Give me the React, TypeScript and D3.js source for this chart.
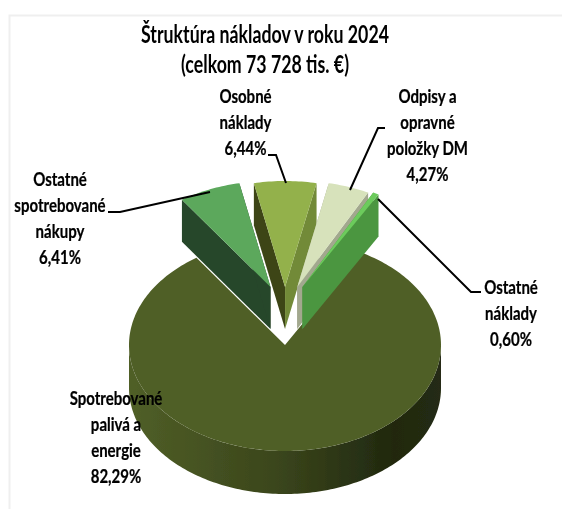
import React from "react";
import * as d3 from "d3";

// Data
const titleLines = ["Štruktúra nákladov v roku 2024", "(celkom 73 728 tis. €)"];
const categories = [
  ["Ostatné", "spotrebované", "nákupy"],
  ["Osobné", "náklady"],
  ["Odpisy a", "opravné", "položky DM"],
  ["Ostatné", "náklady"],
  ["Spotrebované", "palivá a", "energie"],
];
const shares = [6.41, 6.44, 4.27, 0.6, 82.29];
const shareLabels = ["6,41%", "6,44%", "4,27%", "0,60%", "82,29%"];

// Styles
const topColors = ["#5ba85c", "#93b14c", "#d7e2bb", "#6ccb5c", "#505f27"];
const leftFaceColors = ["#26462a", "#3d4519", "#a2a88e", "#4c9640", "#505f27"];
const rightFaceColors = ["#26462a", "#728a38", "#a2a88e", "#4c9640", "#505f27"];

// Layout
const W = 562, H = 509;
const cx = 285, cy = 345, rx = 156, ry = 106, depth = 43;
const sliceDepth = 42, liftY = 58, spreadX = 37;
const startDeg = -34.6;
const labelAnchors: [number, number][] = [
  [60, 186], [245.5, 103], [427.5, 103], [511, 294], [116, 405],
];
const leaders: [number, number][][] = [
  [[108, 212], [120, 212], [210, 192]],
  [[268, 155], [276, 155], [286, 183]],
  [[385, 128], [378, 128], [350, 190]],
  [[378, 199], [471, 292], [481, 292]],
];
const lineH = 26;
const fontFamily = "Lato, Carlito, sans-serif";

const line = d3.line<[number, number]>().curve(d3.curveLinearClosed);
const open = d3.line<[number, number]>();

function rim(a: number, ox: number, oy: number): [number, number] {
  return [cx + ox + rx * Math.sin(a), cy + oy - ry * Math.cos(a)];
}
function arcPts(a0: number, a1: number, ox: number, oy: number): [number, number][] {
  const n = Math.max(2, Math.ceil(Math.abs(a1 - a0) / 0.02));
  return d3.range(n + 1).map((i) => rim(a0 + ((a1 - a0) * i) / n, ox, oy));
}

export default function App() {
  const start = (startDeg * Math.PI) / 180;
  const arcs = d3
    .pie<number>()
    .sort(null)
    .startAngle(start)
    .endAngle(start + 2 * Math.PI)(shares);

  const main = arcs[4];
  const mainTop: [number, number][] = [[cx, cy], ...arcPts(main.startAngle, main.endAngle, 0, 0)];
  const side = [
    ...arcPts(Math.PI / 2, (3 * Math.PI) / 2, 0, 0),
    ...arcPts((3 * Math.PI) / 2, Math.PI / 2, 0, depth),
  ];

  return (
    <svg
      width={W}
      height={H}
      viewBox={`0 0 ${W} ${H}`}
      style={{ position: "absolute", left: 0, top: 0, background: "#fff" }}
    >
      <defs>
        <linearGradient id="mainSide" gradientUnits="userSpaceOnUse" x1={cx - rx} x2={cx + rx} y1={0} y2={0}>
          <stop offset="0" stopColor="#505f27" />
          <stop offset="0.5" stopColor="#39441b" />
          <stop offset="0.85" stopColor="#20280f" />
          <stop offset="1" stopColor="#252c13" />
        </linearGradient>
        <filter id="soft" x="-5%" y="-5%" width="110%" height="110%">
          <feGaussianBlur stdDeviation="0.4" />
        </filter>
      </defs>
      <path d="M9.5 509V15.5H562" fill="none" stroke="#efefef" strokeWidth={2} />
      <g filter="url(#soft)">
        <path d={line(side) ?? ""} fill="url(#mainSide)" />
        <path d={line(mainTop) ?? ""} fill={topColors[4]} />
        {arcs.slice(0, 4).map((s, i) => {
          const mid = (s.startAngle + s.endAngle) / 2;
          const ox = spreadX * Math.sin(mid);
          const oy = -liftY;
          const apex: [number, number] = [cx + ox, cy + oy];
          const p0 = rim(s.startAngle, ox, oy);
          const p1 = rim(s.endAngle, ox, oy);
          const drop = (p: [number, number]): [number, number] => [p[0], p[1] + sliceDepth];
          return (
            <g key={i}>
              <path d={line([p0, apex, drop(apex), drop(p0)]) ?? ""} fill={leftFaceColors[i]} />
              <path d={line([p1, apex, drop(apex), drop(p1)]) ?? ""} fill={rightFaceColors[i]} />
              <path
                d={line([apex, ...arcPts(s.startAngle, s.endAngle, ox, oy)]) ?? ""}
                fill={topColors[i]}
              />
            </g>
          );
        })}
        {leaders.map((l, i) => (
          <path key={i} d={open(l) ?? ""} fill="none" stroke="#000" strokeWidth={2} />
        ))}
      </g>
      <g fontFamily={fontFamily} fill="#000" textAnchor="middle" filter="url(#soft)">
        {titleLines.map((t, i) => (
          <text
            key={t}
            transform={`translate(265,${43 + i * 30}) scale(0.71,1)`}
            fontSize={25}
            fontWeight={700}
          >
            {t}
          </text>
        ))}
        {categories.map((c, i) => (
          <g key={i} fontSize={19} fontWeight={700} stroke="#000" strokeWidth={0.25}>
            {[...c, shareLabels[i]].map((t, j) => (
              <text
                key={j}
                transform={`translate(${labelAnchors[i][0]},${labelAnchors[i][1] + j * lineH}) scale(0.79,1)`}
              >
                {t}
              </text>
            ))}
          </g>
        ))}
      </g>
    </svg>
  );
}
